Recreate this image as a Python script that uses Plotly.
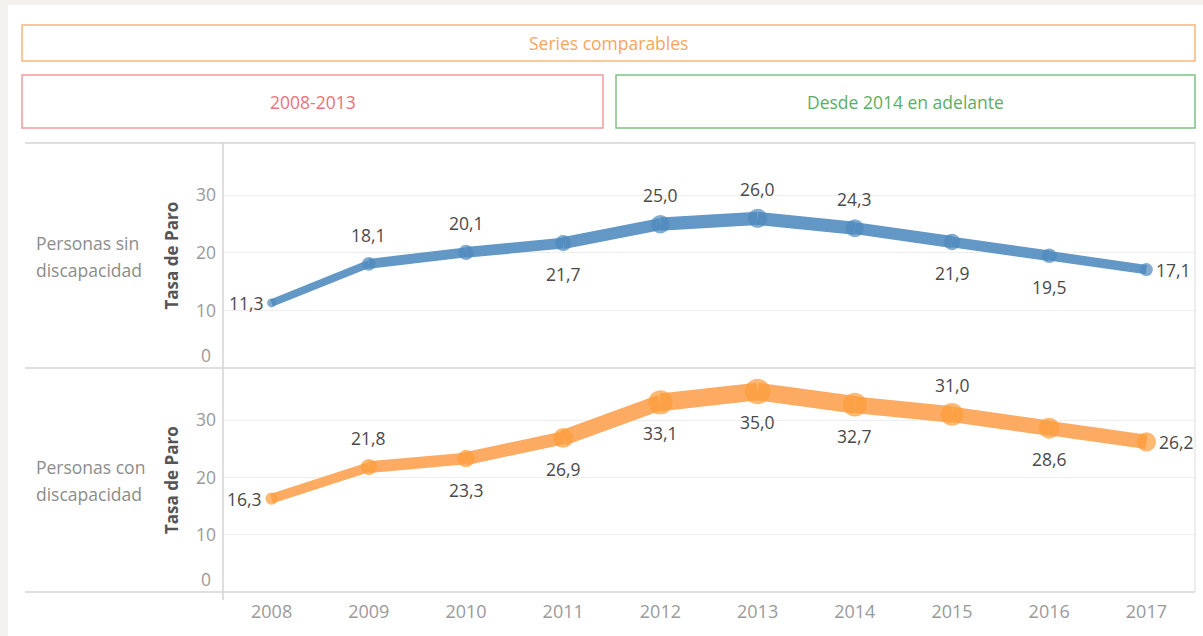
import plotly.graph_objects as go

years = [2008, 2009, 2010, 2011, 2012, 2013, 2014, 2015, 2016, 2017]
sin_disc = [11.3, 18.1, 20.1, 21.7, 25.0, 26.0, 24.3, 21.9, 19.5, 17.1]
con_disc = [16.3, 21.8, 23.3, 26.9, 33.1, 35.0, 32.7, 31.0, 28.6, 26.2]
row_labels = [["Personas sin", "discapacidad"], ["Personas con", "discapacidad"]]
y_ticks = [10, 20, 30]

# label placement (style): l=left, a=above, b=below, r=right
pos_sin = ["l", "a", "a", "b", "a", "a", "a", "b", "b", "r"]
pos_con = ["l", "a", "b", "b", "b", "b", "b", "a", "b", "r"]

W, H = 1203, 636
def px(x): return x / W
def py(y): return 1 - y / H

X0, X1 = 223, 1195
TOP, MID, BOT = 143, 368, 592
FONT = "Open Sans"

fig = go.Figure()

series = [
    (sin_disc, pos_sin, "x", "y", "#6397c5", "#4f89bc"),
    (con_disc, pos_con, "x2", "y2", "#fdab62", "#fb9c3a"),
]

annotations = []
for vals, pos, xa, ya, lc, mc in series:
    for i in range(len(years) - 1):
        w = 0.52 * (vals[i] + vals[i + 1]) / 2
        fig.add_trace(go.Scatter(
            x=years[i:i + 2], y=vals[i:i + 2], mode="lines",
            line=dict(color=lc, width=w), xaxis=xa, yaxis=ya,
            hoverinfo="skip", showlegend=False))
    sizes = [0.7 * v + 1 for v in vals]
    fig.add_trace(go.Scatter(
        x=years, y=vals, mode="markers",
        marker=dict(color=mc, size=sizes, line=dict(width=0)),
        xaxis=xa, yaxis=ya, showlegend=False))
    for yr, v, p, s in zip(years, vals, pos, sizes):
        txt = f"{v:.1f}".replace(".", ",")
        a = dict(x=yr, y=v, xref=xa, yref=ya, text=txt, showarrow=False,
                 xanchor="center", yanchor="middle",
                 font=dict(family=FONT, size=17.5, color="#4a4a4a"))
        if p == "l":
            a.update(xanchor="right", xshift=-(s / 2 + 1))
        elif p == "r":
            a.update(xanchor="left", xshift=s / 2 + 1)
        elif p == "a":
            a.update(yshift=29)
        else:
            a.update(yshift=-31)
        annotations.append(a)

shapes = []
# white card
shapes.append(dict(type="rect", xref="paper", yref="paper", x0=px(8), x1=px(1203),
                   y0=py(636), y1=py(5), fillcolor="white", line=dict(width=0), layer="below"))
# header boxes
hdrs = [
    (22, 1195, 25, 61, "#fdb57c", "#f9a55e", "Series comparables"),
    (22, 603, 75, 128, "#f39b9f", "#ea727a", "2008-2013"),
    (616, 1195, 75, 128, "#7dc283", "#5cae62", "Desde 2014 en adelante"),
]
for x0, x1, y0, y1, bc, tc, t in hdrs:
    shapes.append(dict(type="rect", xref="paper", yref="paper", x0=px(x0), x1=px(x1),
                       y0=py(y1), y1=py(y0), line=dict(color=bc, width=1.5)))
    annotations.append(dict(x=px((x0 + x1) / 2), y=py((y0 + y1) / 2), xref="paper", yref="paper",
                            text=t, showarrow=False, xanchor="center", yanchor="middle",
                            font=dict(family=FONT, size=17.5, color=tc)))
# frame lines
for yy in (TOP, MID, BOT):
    shapes.append(dict(type="line", xref="paper", yref="paper", x0=px(25), x1=px(X1),
                       y0=py(yy), y1=py(yy), line=dict(color="#d4d4d4", width=1.5)))
shapes.append(dict(type="line", xref="paper", yref="paper", x0=px(X0), x1=px(X0),
                   y0=py(TOP), y1=py(BOT + 8), line=dict(color="#d4d4d4", width=1.5)))
shapes.append(dict(type="line", xref="paper", yref="paper", x0=px(X1), x1=px(X1),
                   y0=py(TOP), y1=py(BOT), line=dict(color="#dcdcdc", width=1)))

# row labels, axis titles, zero tick labels
for lines, (ytop, ybot) in zip(row_labels, [(TOP, MID), (MID, BOT)]):
    yc = (ytop + ybot) / 2
    for k, ln in enumerate(lines):
        annotations.append(dict(x=px(34), y=py(yc - 13 + 27 * k), xref="paper", yref="paper",
                                text=ln, showarrow=False, xanchor="left", yanchor="middle",
                                font=dict(family=FONT, size=17.5, color="#8c8c8c")))
    annotations.append(dict(x=px(171), y=py(yc), xref="paper", yref="paper",
                            text="<b>Tasa de Paro</b>", textangle=-90, showarrow=False,
                            xanchor="center", yanchor="middle",
                            font=dict(family=FONT, size=17, color="#555555")))
    annotations.append(dict(x=px(213), y=py(ybot - 13), xref="paper", yref="paper",
                            text="0", showarrow=False, xanchor="right", yanchor="middle",
                            font=dict(family=FONT, size=17.5, color="#9a9a9a")))

yaxis_common = dict(range=[0, 39.1], tickvals=y_ticks, showgrid=True, gridcolor="#eeeeee",
                    gridwidth=1, zeroline=False, showline=False, ticks="",
                    tickfont=dict(family=FONT, size=17.5, color="#9a9a9a"), ticklabelstandoff=6,
                    fixedrange=True)
xaxis_common = dict(range=[2007.5, 2017.5], tickvals=years, showgrid=False, zeroline=False,
                    showline=False, ticks="", domain=[px(X0), px(X1)], fixedrange=True)

fig.update_layout(
    width=W, height=H, margin=dict(l=0, r=0, t=0, b=0),
    paper_bgcolor="#f4f2ee", plot_bgcolor="rgba(0,0,0,0)",
    xaxis=dict(**xaxis_common, anchor="y", showticklabels=False),
    yaxis=dict(**yaxis_common, domain=[py(MID), py(TOP)], anchor="x"),
    xaxis2=dict(**xaxis_common, anchor="y2", showticklabels=True,
                tickfont=dict(family=FONT, size=18, color="#9a9a9a"), ticklabelstandoff=7),
    yaxis2=dict(**yaxis_common, domain=[py(BOT), py(MID)], anchor="x2"),
    shapes=shapes, annotations=annotations, showlegend=False,
)

fig.write_html("out.html", config={"displayModeBar": False},
               post_script="document.body.style.margin='0';document.body.style.overflow='hidden';")
